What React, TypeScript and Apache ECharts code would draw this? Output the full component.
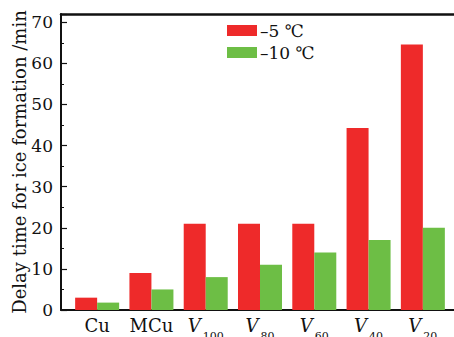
import React, { useEffect, useRef } from "react";
import * as echarts from "echarts";

const categories = ["Cu", "MCu", "V100", "V80", "V60", "V40", "V20"];
const seriesNames = ["\u20135 \u2103", "\u201310 \u2103"];
const minus5 = [3, 9, 21, 21, 21, 44.3, 64.6];
const minus10 = [1.8, 5, 8, 11, 14, 17, 20];
const yTicksMax = 72;

const FONT = "DejaVu Serif";

export default function App() {
  const ref = useRef<HTMLDivElement>(null);
  useEffect(() => {
    if (!ref.current) return;
    const chart = echarts.init(ref.current, undefined, { renderer: "svg" });
    const hidden = {
      axisTick: { show: false },
      axisLabel: { show: false },
      splitLine: { show: false },
    };
    chart.setOption({
      animation: false,
      backgroundColor: "#fff",
      textStyle: { fontFamily: FONT },
      grid: [
        { left: 61, right: -4, top: 14, bottom: 27, outerBoundsMode: "none", containLabel: false },
        { left: 70, right: 4, top: 14, bottom: 27, outerBoundsMode: "none", containLabel: false },
      ],
      legend: {
        orient: "vertical",
        left: 227,
        top: 22,
        padding: 0,
        itemWidth: 30,
        itemHeight: 11,
        itemGap: 5,
        icon: "rect",
        textStyle: { fontFamily: FONT, fontSize: 17, color: "#111", padding: [0, 0, 0, -2] },
        data: seriesNames,
      },
      xAxis: [
        {
          gridIndex: 0, type: "value", position: "bottom", min: 0, max: 1,
          axisLine: { show: true, lineStyle: { color: "#111", width: 2 } }, ...hidden,
        },
        {
          gridIndex: 0, type: "value", position: "top", min: 0, max: 1,
          axisLine: { show: true, lineStyle: { color: "#111", width: 2.5 } }, ...hidden,
        },
        {
          gridIndex: 1, type: "category", data: categories,
          axisLine: { show: false }, axisTick: { show: false },
          axisLabel: {
            interval: 0,
            margin: 6,
            color: "#111",
            formatter: (v: string) =>
              v.startsWith("V") ? `{v|V}{s|${v.slice(1)}}` : `{n|${v}}`,
            rich: {
              n: { fontFamily: FONT, fontSize: 18, color: "#111", verticalAlign: "bottom" },
              v: { fontFamily: FONT, fontSize: 18, fontStyle: "italic", color: "#111", verticalAlign: "bottom", padding: [0, 0, 8, 0] },
              s: { fontFamily: FONT, fontSize: 11, color: "#111", verticalAlign: "bottom", padding: [0, 0, 0, 2] },
            },
          },
        },
      ],
      yAxis: [
        {
          gridIndex: 0, type: "value", min: 0, max: yTicksMax, interval: 10,
          name: "Delay time for ice formation /min",
          nameLocation: "middle", nameGap: 33, nameRotate: 90,
          nameMoveOverlap: false,
          nameTextStyle: { fontFamily: FONT, fontSize: 18, color: "#111" },
          axisLine: { show: true, lineStyle: { color: "#111", width: 2 } },
          axisTick: { show: true, inside: true, length: 6, lineStyle: { color: "#111", width: 1.2 } },
          minorTick: { show: true, splitNumber: 2, length: 3, lineStyle: { color: "#111", width: 1 } },
          axisLabel: { fontFamily: FONT, fontSize: 17, color: "#111", margin: 8, showMaxLabel: false },
          splitLine: { show: false },
        },
        {
          gridIndex: 1, type: "value", min: 0, max: yTicksMax, show: false,
          splitLine: { show: false },
        },
      ],
      series: [
        {
          name: seriesNames[0], type: "bar", xAxisIndex: 2, yAxisIndex: 1,
          data: minus5, barWidth: 22, barGap: "0%",
          itemStyle: { color: "#EE2A2A" },
        },
        {
          name: seriesNames[1], type: "bar", xAxisIndex: 2, yAxisIndex: 1,
          data: minus10, barWidth: 22, barGap: "0%",
          itemStyle: { color: "#6DBE45" },
        },
      ],
    });
    return () => chart.dispose();
  }, []);
  return (
    <div
      ref={ref}
      style={{ position: "fixed", left: 0, top: 0, width: 454, height: 337 }}
    />
  );
}
